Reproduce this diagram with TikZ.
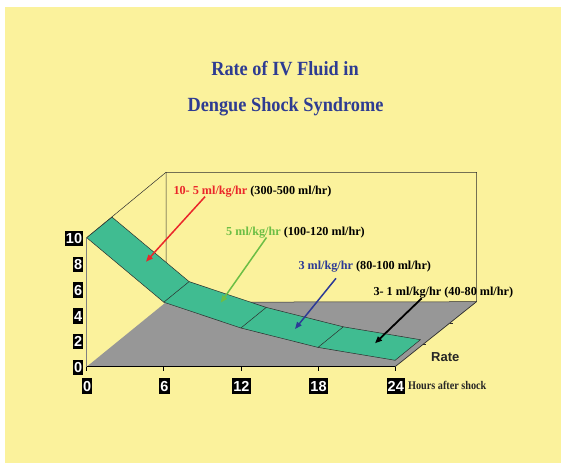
\documentclass[tikz,border=0pt]{standalone}
\usepackage{fontspec}
\setmainfont{Liberation Serif}
\setsansfont{Liberation Sans}
\usetikzlibrary{arrows.meta,calc}
\definecolor{bgyellow}{RGB}{251,242,156}
\definecolor{ribbon}{RGB}{64,188,145}
\definecolor{floorgray}{RGB}{151,151,151}
\definecolor{titleblue}{RGB}{46,60,146}
\definecolor{annred}{RGB}{234,38,42}
\definecolor{anngreen}{RGB}{108,190,69}
\definecolor{annblue}{RGB}{44,58,150}
\definecolor{edgecol}{RGB}{45,45,45}
\begin{document}
\begin{tikzpicture}[x=1pt,y=-1pt,
 axlabel/.style={fill=black,text=white,font=\sffamily\bfseries\fontsize{14.5}{14.5}\selectfont,inner xsep=1.2pt,inner ysep=2.5pt,text height=10.5pt,text depth=0pt},
 ann/.style={font=\bfseries\fontsize{12.2}{12.2}\selectfont,anchor=base west,inner sep=0pt,text=black},
 pointer/.style={line width=1.5pt,-{Triangle[length=7pt,width=5.5pt]}},
 wire/.style={draw=edgecol,line width=0.5pt},
 titletext/.style={anchor=base,inner sep=0pt,font=\bfseries\fontsize{18.3}{18.3}\selectfont,text=titleblue},
]
\useasboundingbox (0,0) rectangle (561,463);
\fill[white] (0,0) rectangle (561,463);
\fill[bgyellow] (5,7) rectangle (561,463);

% 3D frame corners
\coordinate (O) at (86.7,366.7);
\coordinate (X24) at (395.1,366.7);
\coordinate (BR) at (476.5,301.7);
\coordinate (BL) at (166,302.2);
\coordinate (TL) at (166,172.3);
\coordinate (TR) at (476.5,172.3);
% ribbon front edge
\coordinate (F0) at (86.7,237.7);
\coordinate (F6) at (163.8,302.2);
\coordinate (F12) at (240.9,328.0);
\coordinate (F18) at (318.0,347.4);
\coordinate (F24) at (395.1,360.3);
% ribbon back edge
\coordinate (B0) at (112.0,217.1);
\coordinate (B6) at (189.1,281.6);
\coordinate (B12) at (266.2,307.4);
\coordinate (B18) at (343.3,326.8);
\coordinate (B24) at (420.4,339.7);

% floor
\fill[floorgray] (O)--(X24)--(BR)--(BL)--cycle;
% back wall and left wall edges
\draw[wire] (BL)--(TL)--(TR)--(BR)--cycle;
\draw[wire] (F0)--(TL);
\draw[draw=gray,line width=0.6pt] (O)--(F0);
% depth axis
\draw[wire,line width=0.7pt] (X24)--(BR);
\draw[wire] ($(X24)!0.34!(BR)$) -- ++(3.5,0);
\draw[wire] ($(X24)!0.67!(BR)$) -- ++(3.5,0);

% ribbon
\filldraw[fill=ribbon,wire] (F0)--(F6)--(F12)--(F18)--(F24)--(B24)--(B18)--(B12)--(B6)--(B0)--cycle;
\draw[wire] (F6)--(B6);
\draw[wire] (F12)--(B12);
\draw[wire] (F18)--(B18);

% x axis
\draw[black,line width=0.9pt] (O)--(X24);
\foreach \xx in {86.7,163.8,240.9,318.0,395.1} \draw[black,line width=0.7pt] (\xx,366.7)--(\xx,370.5);

% y labels
\node[axlabel,anchor=east] (y0) at (83.5,367.5) {0};
\node[axlabel,anchor=east] (y2) at (83.5,341.7) {2};
\node[axlabel,anchor=east] (y4) at (83.5,315.9) {4};
\node[axlabel,anchor=east] (y6) at (83.5,290.1) {6};
\node[axlabel,anchor=east] (y8) at (83.5,264.3) {8};
\node[axlabel,anchor=east] (y10) at (83.5,238.3) {10};
% x labels
\node[axlabel] (x0) at (87.2,386) {0};
\node[axlabel] (x6) at (164.3,386) {6};
\node[axlabel] (x12) at (241.4,386) {12};
\node[axlabel] (x18) at (318.5,386) {18};
\node[axlabel] (x24) at (395.8,386) {24};

\node[anchor=base west,inner sep=0pt,font=\bfseries\fontsize{10.2}{10.2}\selectfont,text=black!85] (hrs) at (408,389.3) {\scalebox{1}[1.15]{Hours after shock}};
\node[anchor=base west,inner sep=0pt,font=\sffamily\bfseries\fontsize{13}{13}\selectfont,text=black!85] (rate) at (431,361.7) {Rate};

% title
\node[titletext] (t1) at (285,75) {\scalebox{1}[1.1]{Rate of IV Fluid in}};
\node[titletext] (t2) at (285.5,111.7) {\scalebox{1}[1.1]{Dengue Shock Syndrome}};

% annotations
\node[ann] (a1) at (173.3,194) {{\color{annred}10- 5 ml/kg/hr} (300-500 ml/hr)};
\node[ann] (a2) at (226,235) {{\color{anngreen}5 ml/kg/hr} (100-120 ml/hr)};
\node[ann] (a3) at (298.3,269.3) {{\color{annblue}3 ml/kg/hr} (80-100 ml/hr)};
\node[ann] (a4) at (373.3,295) {3- 1 ml/kg/hr (40-80 ml/hr)};

% arrows
\coordinate (ra) at (205,196.7);
\coordinate (rb) at (146,261.7);
\coordinate (ga) at (266.5,237.5);
\coordinate (gb) at (220.7,302.7);
\coordinate (ba) at (336,278.3);
\coordinate (bb) at (295,329);
\coordinate (ka) at (421.7,298.3);
\coordinate (kb) at (375,343.3);
\draw[pointer,annred] (ra)--(rb);
\draw[pointer,anngreen] (ga)--(gb);
\draw[pointer,annblue] (ba)--(bb);
\draw[pointer,black,line width=1.8pt] (ka)--(kb);
\end{tikzpicture}
\end{document}
